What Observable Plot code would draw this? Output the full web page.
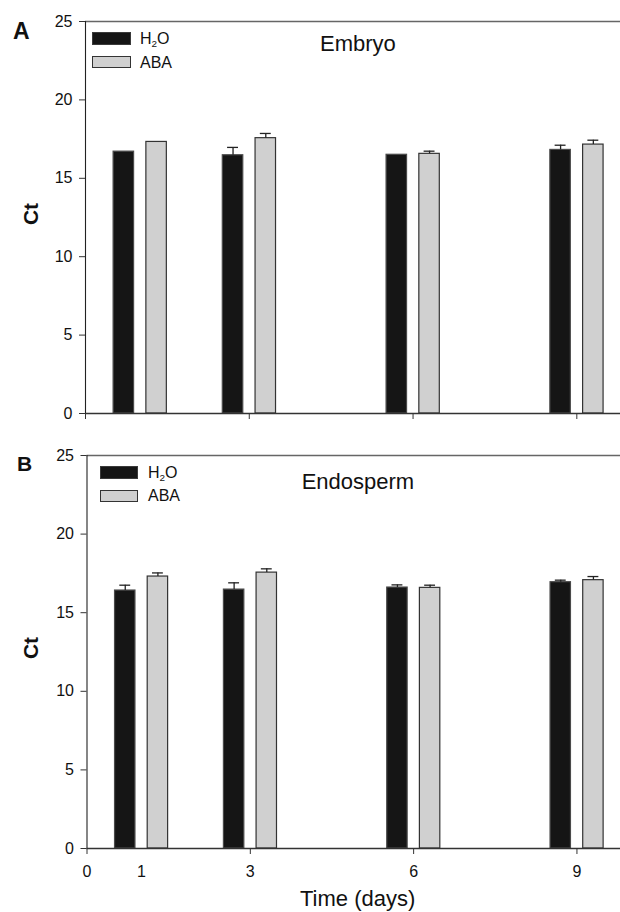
<!DOCTYPE html>
<html>
<head>
<meta charset="utf-8">
<script src="https://cdn.jsdelivr.net/npm/d3@7"></script>
<script src="https://cdn.jsdelivr.net/npm/@observablehq/plot@0.6"></script>
<style>
  html, body { margin: 0; padding: 0; background: #fff; }
  #wrap { position: relative; width: 620px; height: 912px; overflow: hidden;
          font-family: "Liberation Sans", Arial, Helvetica, sans-serif; color: #111; }
  .abs { position: absolute; white-space: nowrap; line-height: 1; }
  .panelA, .panelB { position: absolute; left: 0; }
  .sw { position: absolute; box-sizing: border-box; }
  .rot { position: absolute; transform: translate(-50%, -50%) rotate(-90deg); font-weight: bold; line-height: 1; }
</style>
</head>
<body>
<div id="wrap"></div>
<script>
// ---------- data ----------
const days = [1, 3, 6, 9];
const treatments = ["H2O", "ABA"];

const embryoH2O    = [16.70, 16.47, 16.50, 16.81];
const embryoH2OErr = [0.00, 0.50, 0.00, 0.30];
const embryoABA    = [17.32, 17.56, 16.56, 17.15];
const embryoABAErr = [0.00, 0.30, 0.17, 0.28];

const endoH2O    = [16.41, 16.47, 16.60, 16.94];
const endoH2OErr = [0.34, 0.43, 0.17, 0.13];
const endoABA    = [17.30, 17.55, 16.58, 17.07];
const endoABAErr = [0.23, 0.24, 0.17, 0.23];

const xTicks = [0, 3, 6, 9];
const xExtraLabels = [1];
const yTicks = [0, 5, 10, 15, 20, 25];
const yMax = 25;
const xMax = 9.8;

// ---------- helpers ----------
function rows(h2o, h2oErr, aba, abaErr) {
  const out = [];
  days.forEach((d, i) => {
    out.push({day: d, trt: "H2O", value: h2o[i], err: h2oErr[i]});
    out.push({day: d, trt: "ABA", value: aba[i], err: abaErr[i]});
  });
  return out;
}
const left = d => d.day + (d.trt === "H2O" ? -0.485 : 0.115);
const right = d => d.day + (d.trt === "H2O" ? -0.11 : 0.49);
const mid = d => (left(d) + right(d)) / 2;

function panel(data, o) {
  const withErr = data.filter(d => d.err > 0);
  const marks = [
    Plot.rectY(data, {x1: left, x2: right, y1: 0, y2: "value", fill: "trt",
      stroke: d => d.trt === "H2O" ? "#4a4a4a" : "#333", strokeWidth: 1.2}),
    Plot.ruleX(withErr, {x: mid, y1: "value", y2: d => d.value + d.err, stroke: "#222", strokeWidth: 1.3}),
    Plot.ruleY(withErr, {y: d => d.value + d.err, x1: d => mid(d) - 0.1, x2: d => mid(d) + 0.1, stroke: "#222", strokeWidth: 1.3}),
    Plot.ruleY([yMax], {stroke: "#666", strokeWidth: 1.6}),
    Plot.ruleY([0], {stroke: "#333", strokeWidth: 1.6}),
    Plot.ruleX([0], {stroke: "#222", strokeWidth: 1.1}),
    Plot.axisY(yTicks, {tickSize: 6, tickPadding: 7, label: null, stroke: "#333", fontSize: 16}),
    Plot.axisX(xTicks, {tickSize: 6, tickPadding: 11, label: null, stroke: "#333", fontSize: 16,
      tickFormat: o.labels ? (d => String(d)) : (() => "")})
  ];
  if (o.labels) {
    marks.push(Plot.axisX(xExtraLabels, {tickSize: 0, tickPadding: 17, label: null, fontSize: 16,
      tickFormat: d => String(d)}));
  }
  return Plot.plot({
    width: 620,
    height: o.height,
    marginLeft: o.marginLeft,
    marginRight: 0,
    marginTop: o.marginTop,
    marginBottom: o.marginBottom,
    style: {fontFamily: "'Liberation Sans', Arial, Helvetica, sans-serif", fontSize: "16px", color: "#111", background: "transparent"},
    x: {domain: [0, xMax], axis: null},
    y: {domain: [0, yMax], axis: null},
    color: {domain: treatments, range: ["#151515", "#d0d0d0"]},
    marks
  });
}

const wrap = document.getElementById("wrap");

const svgA = panel(rows(embryoH2O, embryoH2OErr, embryoABA, embryoABAErr),
  {height: 440, marginTop: 21, marginBottom: 27, marginLeft: 85, labels: false});
svgA.classList.add("panelA");
svgA.style.top = "0px";
wrap.appendChild(svgA);

const svgB = panel(rows(endoH2O, endoH2OErr, endoABA, endoABAErr),
  {height: 472, marginTop: 15, marginBottom: 64, marginLeft: 86.5, labels: true});
svgB.classList.add("panelB");
svgB.style.top = "440px";
wrap.appendChild(svgB);

// ---------- annotations (HTML) ----------
function text(str, x, baseline, size, extra = {}) {
  const el = document.createElement("div");
  el.className = "abs";
  el.innerHTML = str;
  el.style.left = x + "px";
  el.style.top = (baseline - 0.8465 * size) + "px";
  el.style.fontSize = size + "px";
  Object.assign(el.style, extra);
  wrap.appendChild(el);
  return el;
}
function swatch(x, y, w, h, fill, stroke) {
  const el = document.createElement("div");
  el.className = "sw";
  Object.assign(el.style, {left: x + "px", top: y + "px", width: w + "px", height: h + "px",
    background: fill, border: "1.3px solid " + stroke});
  wrap.appendChild(el);
}
function rotLabel(str, cx, cy, size) {
  const el = document.createElement("div");
  el.className = "rot";
  el.textContent = str;
  Object.assign(el.style, {left: cx + "px", top: cy + "px", fontSize: size + "px"});
  wrap.appendChild(el);
}

const h2oLabel = "H<sub style='font-size:0.62em;vertical-align:-0.3em;line-height:0'>2</sub>O";

// Panel A
text("A", 13, 39, 23, {fontWeight: "bold"});
text("Embryo", 320, 52, 22);
swatch(92, 32, 39, 12.5, "#151515", "#3a3a3a");
swatch(92, 56, 39, 12, "#d0d0d0", "#333");
text(h2oLabel, 140, 44.3, 16);
text("ABA", 140, 68.3, 16);
rotLabel("Ct", 30, 214, 21);

// Panel B
text("B", 17, 470.7, 21, {fontWeight: "bold"});
text("Endosperm", 301.7, 490, 22);
swatch(100, 466, 38, 12.7, "#151515", "#3a3a3a");
swatch(100, 490, 38, 12, "#d0d0d0", "#333");
text(h2oLabel, 148, 479, 16);
text("ABA", 148, 501.7, 16);
rotLabel("Ct", 30, 648, 21);

text("Time (days)", 300, 906.7, 22);
</script>
</body>
</html>
